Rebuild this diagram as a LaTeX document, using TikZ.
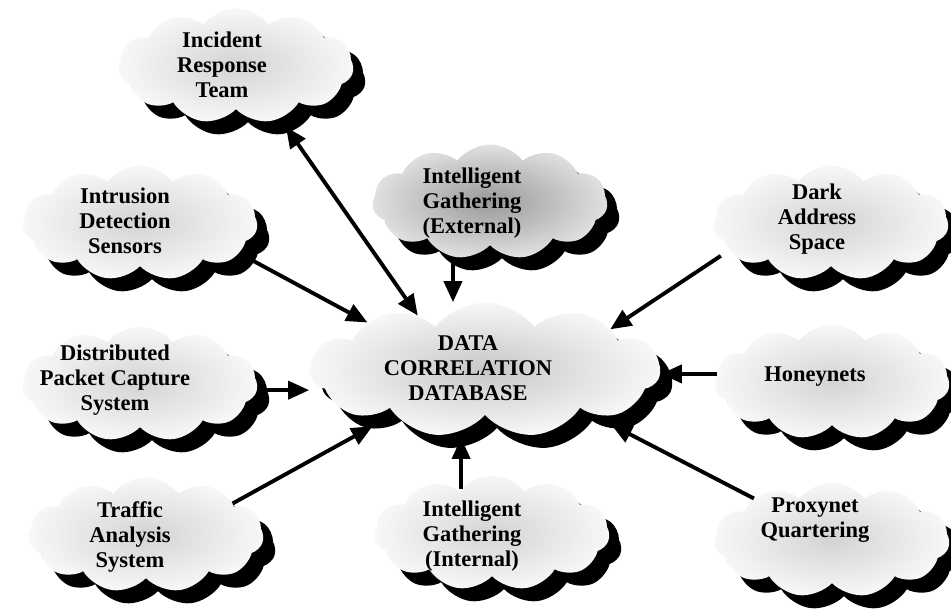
\documentclass[tikz,border=0pt]{standalone}
\usepackage{fontspec}
\setmainfont{Liberation Serif}
\usetikzlibrary{calc,shapes.symbols,shadows,arrows.meta}

\begin{document}
\begin{tikzpicture}[
    x=0.02cm, y=-0.02cm,
    >={Triangle[length=0.42cm,width=0.36cm]},
    puff/.style={cloud, cloud puffs=11, cloud puff arc=105,
      minimum width=4.7cm, minimum height=2.3cm, inner sep=0pt,
      inner color=black!17, outer color=black!3,
      drop shadow={shadow xshift=0.24cm, shadow yshift=-0.26cm,
        fill=black, opacity=1}},
    darkpuff/.style={puff, inner color=black!40, outer color=black!12},
    cloudtext/.style={font=\bfseries\fontsize{12.8}{14.2}\selectfont,
      align=center, inner sep=0pt},
    feed/.style={line width=2.2pt, ->},
  ]
  \useasboundingbox (0,0) rectangle (951,609);
  \clip (0,0) rectangle (951,609);
  % clouds
  \node [puff] (irt) at (236,66) {};
  \node [darkpuff] (ext) at (490,202) {};
  \node [puff] (ids) at (140,223) {};
  \node [puff] (das) at (831,223) {};
  \node [puff] (dpc) at (140,384) {};
  \node [puff, minimum width=7cm, minimum height=2.7cm,
    inner color=black!22] (cdb) at (485,370) {};
  \node [puff] (hon) at (832,382) {};
  \node [puff] (tas) at (146,535) {};
  \node [puff] (igi) at (492,533) {};
  \node [puff] (pxq) at (832,540) {};
  % texts
  \node [cloudtext] (irttext) at (222,65) {Incident\\Response\\Team};
  \node [cloudtext] (exttext) at (472,203)
    {Intelligent\\Gathering\\(External)};
  \node [cloudtext] (idstext) at (125,221) {Intrusion\\Detection\\Sensors};
  \node [cloudtext] (dastext) at (817,219) {Dark\\Address\\Space};
  \node [cloudtext] (dpctext) at (115,380)
    {Distributed\\Packet Capture\\System};
  \node [cloudtext] (cdbtext) at (468,368)
    {DATA\\CORRELATION\\DATABASE};
  \node [cloudtext] (hontext) at (815,377) {Honeynets};
  \node [cloudtext] (tastext) at (130,537) {Traffic\\Analysis\\System};
  \node [cloudtext] (igitext) at (472,536)
    {Intelligent\\Gathering\\(Internal)};
  \node [cloudtext] (pxqtext) at (815,520) {Proxynet\\Quartering};
  % arrows into the database
  \draw [feed] (ids.-17) -- (cdb.158);
  \draw [feed] (dpc.-3) -- (dpc.-3 -| cdb.west);
  \draw [feed,shorten >=0.5cm] (tas.20) -- (cdb.206);
  \draw [feed,<->,shorten <=0.2cm] (irt.-50) -- (cdb.141);
  \draw [feed] (ext.236) -- (ext.236 |- cdb.north);
  \draw [feed,shorten >=0.45cm] (igi.125) -- (igi.125 |- cdb.south);
  \draw [feed,shorten <=0.2cm] (das.195) -- (cdb.18);
  \draw [feed] (hon.176) -- (hon.176 -| cdb.east);
  \draw [feed,shorten >=0.7cm] (pxq.152) -- (cdb.-22);
\end{tikzpicture}
\end{document}
